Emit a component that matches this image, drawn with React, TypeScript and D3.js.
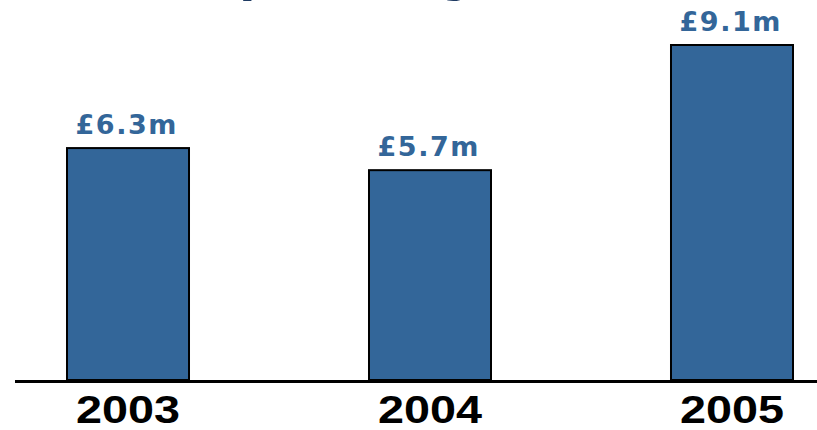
import React from "react";
import * as d3 from "d3";

const years: string[] = ["2003", "2004", "2005"];
const values: number[] = [6.3, 5.7, 9.1];
const valueLabels: string[] = ["£6.3m", "£5.7m", "£9.1m"];
const titleText = "Spending";

export default function App() {
  const W = 817;
  const H = 430;
  const baseY = 380;

  const x = d3.scaleBand<string>().domain(years).range([67, 793]).paddingInner(0.596).paddingOuter(0);
  const y = d3.scaleLinear().domain([0, 9.1]).range([baseY, 45]);

  return (
    <svg
      width={W}
      height={H}
      style={{ position: "absolute", left: 0, top: 0, background: "#fff" }}
    >
      <text
        x={199}
        y={-11}
        fontFamily="'Liberation Sans', Arial, sans-serif"
        fontWeight="bold"
        fontSize={60}
        fill="#1F3B63"
      >
        {titleText}
      </text>
      {years.map((yr, i) => {
        const bx = x(yr)!;
        const bw = x.bandwidth();
        const top = y(values[i]);
        return (
          <g key={yr}>
            <rect
              x={bx}
              y={top}
              width={bw}
              height={baseY - top}
              fill="#336699"
              stroke="#000"
              strokeWidth={2}
            />
            <text
              x={bx + bw / 2 - 2}
              y={top - 14}
              textAnchor="middle"
              fontFamily="'DejaVu Sans', Verdana, sans-serif"
              fontWeight="bold"
              fontSize={27}
              fill="#336699"
              textLength={101}
              lengthAdjust="spacing"
            >
              {valueLabels[i]}
            </text>
            <text
              x={bx + bw / 2}
              y={423}
              textAnchor="middle"
              fontFamily="'Liberation Sans', Arial, sans-serif"
              fontWeight="bold"
              fontSize={39}
              fill="#000"
              textLength={104}
              lengthAdjust="spacingAndGlyphs"
            >
              {yr}
            </text>
          </g>
        );
      })}
      <line x1={15} x2={W} y1={baseY + 1.5} y2={baseY + 1.5} stroke="#000" strokeWidth={3} />
    </svg>
  );
}
